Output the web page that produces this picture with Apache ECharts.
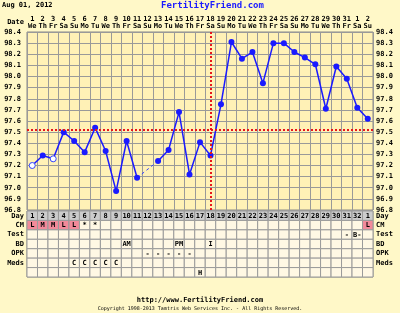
<!DOCTYPE html>
<html>
<head>
<meta charset="utf-8">
<script src="https://cdn.jsdelivr.net/npm/echarts@6/dist/echarts.min.js"></script>
<style>
  html, body { margin: 0; padding: 0; background: #FFF8C8; }
  #main { width: 400px; height: 313px; }
</style>
</head>
<body>
<div id="main"></div>
<script>
// calendar dates along the top (Aug 1 .. Sep 2)
const dates = ['1','2','3','4','5','6','7','8','9','10','11','12','13','14','15','16','17',
  '18','19','20','21','22','23','24','25','26','27','28','29','30','31','1','2'];
const weekdays = ['We','Th','Fr','Sa','Su','Mo','Tu','We','Th','Fr','Sa','Su','Mo','Tu','We','Th','Fr',
  'Sa','Su','Mo','Tu','We','Th','Fr','Sa','Su','Mo','Tu','We','Th','Fr','Sa','Su'];
// basal temperatures (null = not recorded)
const temps = [97.20, 97.29, 97.26, 97.50, 97.42, 97.32, 97.54, 97.33, 96.97, 97.42, 97.09, null,
  97.24, 97.34, 97.68, 97.12, 97.41, 97.29, 97.75, 98.31, 98.16, 98.22, 97.94, 98.30, 98.30,
  98.22, 98.17, 98.11, 97.71, 98.09, 97.98, 97.72, 97.62];
const openDays = [0, 2];      // hollow markers (discarded temps)
const coverLine = 97.52;
const ovulationIdx = 17;
const yTicks = [96.8, 98.4, 0.1];

// chart table rows
const rowNames = ['Day', 'CM', 'Test', 'BD', 'OPK', 'Meds', ''];
const cycleDays = ['1','2','3','4','5','6','7','8','9','10','11','12','13','14','15','16','17',
  '18','19','20','21','22','23','24','25','26','27','28','29','30','31','32','1'];
const cmRow = ['L','M','M','L','L','*','*','','','','','','','','','','','','','','','','','','','','','','','','','','L'];
const testRow = ['','','','','','','','','','','','','','','','','','','','','','','','','','','','','','','-','B-',''];
const bdRow = ['','','','','','','','','','AM','','','','','PM','','','I','','','','','','','','','','','','','','',''];
const opkRow = ['','','','','','','','','','','','-','-','-','-','-','','','','','','','','','','','','','','','','',''];
const medsRow = ['','','','','C','C','C','C','C','','','','','','','','','','','','','','','','','','','','','','','',''];
const noteRow = ['','','','','','','','','','','','','','','','','H','','','','','','','','','','','','','','','',''];

const mono = 'DejaVu Sans Mono';
const tableRows = [cycleDays, cmRow, testRow, bdRow, opkRow, medsRow, noteRow];
const cells = [];
tableRows.forEach((row, r) => {
  row.forEach((t, c) => {
    let bg = '#FFF8E4';
    if (r === 0) bg = '#CCCCCC';
    if (r === 1 && ['L', 'M', 'H'].includes(t)) bg = '#F28A9A';
    cells.push({ value: [c, r], text: t, bg: bg });
  });
});

const tempData = temps.map((v, i) => openDays.includes(i)
  ? { value: v, itemStyle: { color: '#ffffff', borderColor: '#3344ff', borderWidth: 1 } }
  : v);
const bridge = temps.map((v, i) => (temps[i - 1] === null || temps[i + 1] === null) && v !== null ? v : null);

let myChart = echarts.init(document.getElementById('main'));
myChart.setOption({
  backgroundColor: '#FFF8C8',
  animation: false,
  graphic: [
    { type: 'text', left: 2, top: 2, style: { text: 'Aug 01, 2012', font: 'bold 7px ' + mono, fill: '#000' } },
    { type: 'text', left: 161, top: 1, style: { text: 'FertilityFriend.com', font: 'bold 9px ' + mono, fill: '#1a1aff' } },
    { type: 'text', right: 376, top: 19, style: { text: 'Date', font: 'bold 7px ' + mono, fill: '#000', align: 'right' } },
    { type: 'text', left: 'center', top: 297, style: { text: 'http://www.FertilityFriend.com', font: 'bold 7px ' + mono, fill: '#000' } },
    { type: 'text', left: 'center', top: 306, style: { text: 'Copyright 1998-2013 Tamtris Web Services Inc. - All Rights Reserved.', font: '5px ' + mono, fill: '#000' } }
  ],
  grid: [
    { left: 27, right: 27, top: 32, height: 178, show: true, backgroundColor: '#FFF1B6', borderColor: '#888', borderWidth: 1 },
    { left: 27, right: 27, top: 211, height: 66, show: true, backgroundColor: '#FFF8E4', borderColor: '#888', borderWidth: 1 }
  ],
  xAxis: [
    {
      gridIndex: 0, type: 'category', position: 'top', data: dates.map((d, i) => d + '\n' + weekdays[i]),
      axisLine: { show: false }, axisTick: { show: false },
      axisLabel: { interval: 0, margin: 2, font: 'bold 7px ' + mono, fontSize: 7, fontWeight: 'bold', fontFamily: mono, lineHeight: 7, color: '#000' },
      splitLine: { show: true, interval: 0, lineStyle: { color: '#999', width: 1 } }
    },
    {
      gridIndex: 1, type: 'category', data: cycleDays,
      axisLine: { show: false }, axisTick: { show: false }, axisLabel: { show: false },
      splitLine: { show: false }
    }
  ],
  yAxis: [
    {
      gridIndex: 0, type: 'value', min: yTicks[0], max: yTicks[1], interval: yTicks[2],
      axisLine: { show: false }, axisTick: { show: false },
      axisLabel: { margin: 6, fontSize: 7, fontWeight: 'bold', fontFamily: mono, color: '#000', formatter: v => v.toFixed(1) },
      splitLine: { lineStyle: { color: '#999', width: 1 } }
    },
    {
      gridIndex: 0, type: 'value', position: 'right', min: yTicks[0], max: yTicks[1], interval: yTicks[2],
      axisLine: { show: false }, axisTick: { show: false },
      axisLabel: { margin: 3, fontSize: 7, fontWeight: 'bold', fontFamily: mono, color: '#000', formatter: v => v.toFixed(1) },
      splitLine: { show: false }
    },
    {
      gridIndex: 1, type: 'category', inverse: true, data: rowNames,
      axisLine: { show: false }, axisTick: { show: false },
      axisLabel: { margin: 3, fontSize: 7, fontWeight: 'bold', fontFamily: mono, color: '#000' }
    },
    {
      gridIndex: 1, type: 'category', inverse: true, position: 'right', data: rowNames,
      axisLine: { show: false }, axisTick: { show: false },
      axisLabel: { margin: 3, fontSize: 7, fontWeight: 'bold', fontFamily: mono, color: '#000' }
    }
  ],
  series: [
    {
      type: 'line', xAxisIndex: 0, yAxisIndex: 0, data: bridge, connectNulls: true,
      symbol: 'none', lineStyle: { color: '#3344ff', width: 1, type: [3, 3] }, z: 2
    },
    {
      type: 'line', xAxisIndex: 0, yAxisIndex: 0, data: tempData, connectNulls: false,
      symbol: 'circle', symbolSize: 6, showAllSymbol: true,
      lineStyle: { color: '#1a1aff', width: 1.5 }, itemStyle: { color: '#1a1aff' }, z: 3,
      markLine: {
        silent: true, symbol: 'none', label: { show: false },
        lineStyle: { color: '#e8141a', width: 2, type: [2, 2] },
        data: [{ yAxis: coverLine }, { xAxis: ovulationIdx }]
      }
    },
    {
      type: 'custom', xAxisIndex: 1, yAxisIndex: 2, data: cells.map(c => c.value),
      renderItem: (params, api) => {
        const cell = cells[params.dataIndex];
        const p = api.coord([api.value(0), api.value(1)]);
        const s = api.size([1, 1]);
        return {
          type: 'group', children: [
            { type: 'rect', shape: { x: p[0] - s[0] / 2, y: p[1] - s[1] / 2, width: s[0], height: s[1] },
              style: { fill: cell.bg, stroke: '#9a9a9a', lineWidth: 1 } },
            { type: 'text', style: { text: cell.text, x: p[0], y: p[1] + 0.5, align: 'center', verticalAlign: 'middle',
              font: 'bold 7px ' + mono, fill: '#000' } }
          ]
        };
      }
    }
  ]
});
</script>
</body>
</html>
